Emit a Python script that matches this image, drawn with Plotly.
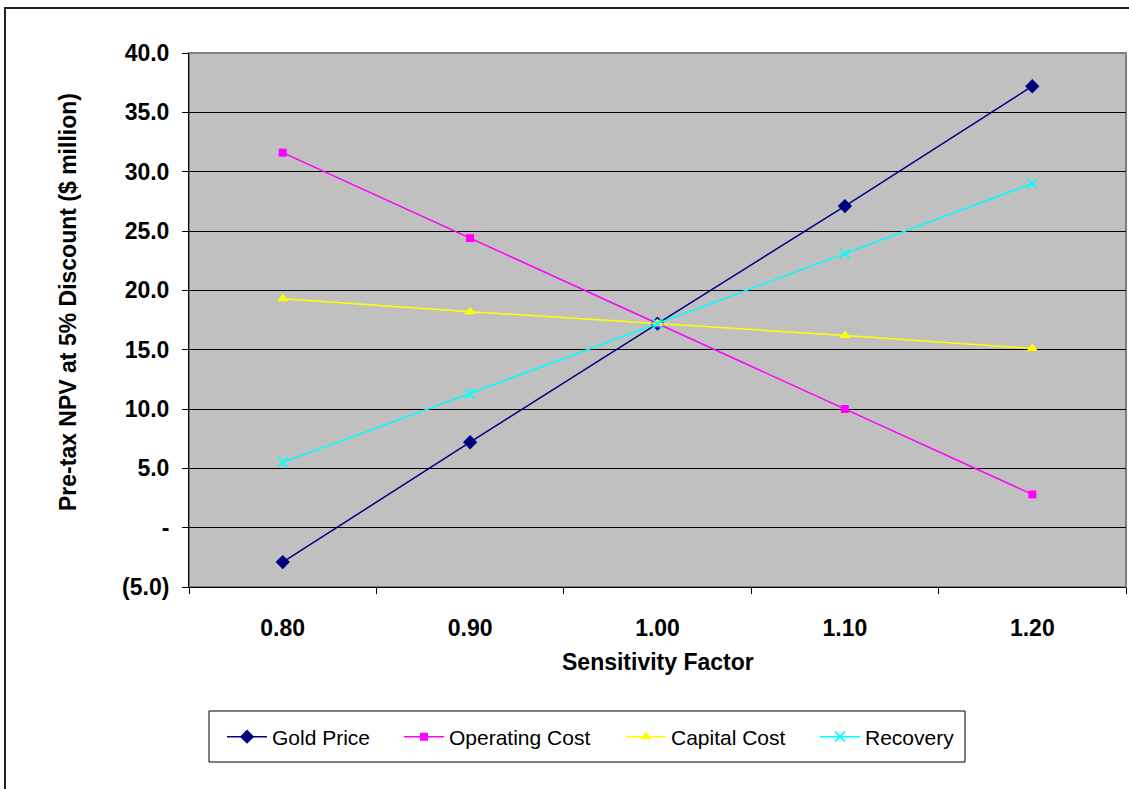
import plotly.graph_objects as go

# Sensitivity of pre-tax NPV (5% discount) to key project inputs
factors = ["0.80", "0.90", "1.00", "1.10", "1.20"]
gold_price = [-2.9, 7.2, 17.2, 27.1, 37.2]
operating_cost = [31.6, 24.4, 17.2, 10.0, 2.8]
capital_cost = [19.3, 18.2, 17.2, 16.2, 15.1]
recovery = [5.5, 11.3, 17.2, 23.1, 29.0]

y_ticks = [-5, 0, 5, 10, 15, 20, 25, 30, 35, 40]
y_ticktext = ["(5.0)", "-", "5.0", "10.0", "15.0", "20.0", "25.0", "30.0", "35.0", "40.0"]

FONT = "Liberation Sans, Arial, sans-serif"

W, H = 1129, 789
L, R, T, B = 189, 3, 53, 202
pw = W - L - R
ph = H - T - B


def px_x(x):
    return (x - L) / pw


def px_y(y):
    return (H - B - y) / ph


# name, values, colour, marker, legend id, left edge of legend entry (px)
series = [
    ("Gold Price", gold_price, "#000080", dict(symbol="diamond", size=11), "legend", 222),
    ("Operating Cost", operating_cost, "#FF00FF", dict(symbol="square", size=8), "legend2", 399),
    ("Capital Cost", capital_cost, "#FFFF00", dict(symbol="triangle-up", size=10), "legend3", 621),
    ("Recovery", recovery, "#00FFFF", dict(symbol="x-thin", size=10,
                                            line=dict(width=1.6, color="#00FFFF")), "legend4", 815),
]

fig = go.Figure()
legend_layouts = {}
for name, vals, color, marker, leg, left in series:
    fig.add_trace(go.Scatter(
        x=factors, y=vals, name=name, mode="lines+markers",
        line=dict(color=color, width=1.5),
        marker=dict(color=color, **marker),
        legend=leg,
    ))
    legend_layouts[leg] = dict(
        orientation="h",
        x=px_x(left), xanchor="left",
        y=px_y(737), yanchor="middle",
        borderwidth=0,
        bgcolor="rgba(0,0,0,0)",
        font=dict(size=21, family=FONT, color="black"),
        itemwidth=40,
    )

bold = dict(size=23, family=FONT, color="black", weight="bold")

fig.update_layout(
    width=W, height=H,
    margin=dict(l=L, r=R, t=T, b=B),
    paper_bgcolor="white",
    plot_bgcolor="#C0C0C0",
    font=dict(family=FONT, color="black"),
    showlegend=True,
    **legend_layouts,
    xaxis=dict(
        type="category",
        range=[-0.5, 4.5],
        tickson="boundaries",
        ticks="outside", ticklen=6, tickcolor="black", tickwidth=1,
        showline=True, linecolor="black", linewidth=1,
        showgrid=False,
        tickfont=bold,
        ticklabelstandoff=20,
    ),
    yaxis=dict(
        range=[-5, 40],
        tickvals=y_ticks, ticktext=y_ticktext,
        ticks="outside", ticklen=6, tickcolor="black", tickwidth=1,
        showline=True, linecolor="black", linewidth=1,
        showgrid=True, gridcolor="black", gridwidth=1,
        zeroline=False,
        tickfont=bold,
        ticklabelstandoff=8,
    ),
    annotations=[
        dict(text="Sensitivity Factor", xref="paper", yref="paper",
             x=0.5, y=px_y(662), xanchor="center", yanchor="middle",
             showarrow=False, font=bold),
        dict(text="Pre-tax NPV at 5% Discount ($ million)", xref="paper", yref="paper",
             x=px_x(68), y=px_y(302), xanchor="center", yanchor="middle",
             textangle=-90, showarrow=False, font=bold),
    ],
    shapes=[
        # grey frame of the plot area (top and right edges)
        dict(type="rect", xref="paper", yref="paper", x0=0, x1=1, y0=0, y1=1,
             line=dict(color="#808080", width=2), layer="below"),
        # outer chart border
        dict(type="rect", xref="paper", yref="paper",
             x0=px_x(5), x1=px_x(W + 20), y0=px_y(H + 20), y1=px_y(8),
             line=dict(color="#222222", width=2), layer="below"),
        # legend frame
        dict(type="rect", xref="paper", yref="paper",
             x0=px_x(209), x1=px_x(965), y0=px_y(762), y1=px_y(711),
             line=dict(color="black", width=1), fillcolor="white", layer="below"),
    ],
)

fig.write_html("out.html")
